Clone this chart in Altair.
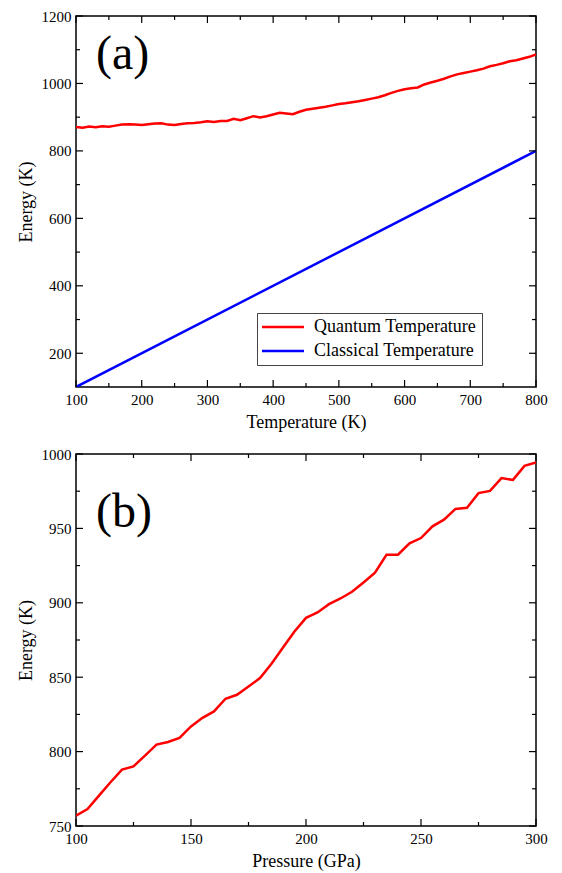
import altair as alt
import pandas as pd

# ---------------- data ----------------
temperature = [100, 110, 120, 130, 140, 150, 160, 170, 180, 190,
               200, 210, 220, 230, 240, 250, 260, 270, 280, 290,
               300, 310, 320, 330, 340, 350, 360, 370, 380, 390,
               400, 410, 420, 430, 440, 450, 460, 470, 480, 490,
               500, 510, 520, 530, 540, 550, 560, 570, 580, 590,
               600, 610, 620, 630, 640, 650, 660, 670, 680, 690,
               700, 710, 720, 730, 740, 750, 760, 770, 780, 790, 800]
quantum_energy = [871, 869, 872, 870, 873, 872, 875, 878, 879, 878,
                  877, 879, 881, 882, 878, 877, 880, 882, 883, 885,
                  888, 886, 889, 889, 895, 891, 897, 903, 899, 903,
                  908, 913, 911, 909, 916, 922, 925, 928, 931, 935,
                  939, 941, 944, 947, 951, 955, 959, 965, 972, 978,
                  983, 986, 988, 997, 1003, 1008, 1014, 1021, 1027, 1031,
                  1035, 1039, 1044, 1051, 1055, 1060, 1066, 1069, 1074, 1079, 1086]
classical_temperature = [100, 800]
classical_energy = [100, 800]

pressure = [100, 105, 110, 115, 120, 125, 130, 135, 140, 145,
            150, 155, 160, 165, 170, 175, 180, 185, 190, 195,
            200, 205, 210, 215, 220, 225, 230, 235, 240, 245,
            250, 255, 260, 265, 270, 275, 280, 285, 290, 295, 300]
pressure_energy = [757, 761.4, 770.4, 779.4, 787.9, 790.1, 797.3, 804.7, 806.5, 809.2,
                   816.9, 822.7, 827.0, 835.5, 838.2, 843.8, 849.4, 859.1, 870.0, 880.7,
                   889.9, 893.5, 899.1, 902.9, 907.4, 913.7, 920.2, 932.3, 932.3, 940.0,
                   943.5, 951.4, 955.9, 963.1, 963.8, 973.7, 975.2, 983.8, 982.6, 992.0, 994.3]

series_names = ["Quantum Temperature", "Classical Temperature"]
series_colors = ["#ff0000", "#0000ff"]

top_x_major = [100, 200, 300, 400, 500, 600, 700, 800]
top_x_minor = [150, 250, 350, 450, 550, 650, 750]
top_y_major = [200, 400, 600, 800, 1000, 1200]
top_y_minor = [300, 500, 700, 900, 1100]
bot_x_major = [100, 150, 200, 250, 300]
bot_x_minor = [125, 175, 225, 275]
bot_y_major = [750, 800, 850, 900, 950, 1000]
bot_y_minor = [775, 825, 875, 925, 975]

top_df = pd.concat([
    pd.DataFrame({"T": temperature, "E": quantum_energy, "series": series_names[0]}),
    pd.DataFrame({"T": classical_temperature, "E": classical_energy, "series": series_names[1]}),
], ignore_index=True)
bot_df = pd.DataFrame({"P": pressure, "E": pressure_energy})

FONT = "Liberation Serif"
MAJ = 7
MIN = 4


def label_axis(orient, values, title):
    return alt.Axis(orient=orient, values=values, format="d", title=title,
                    ticks=False, domain=False, grid=False,
                    labelFont=FONT, labelFontSize=15, labelColor="black",
                    labelPadding=5, labelFlush=False, labelOverlap=False,
                    titleFont=FONT, titleFontSize=18, titleFontWeight="normal",
                    titleColor="black", titlePadding=6)


def tick_rules(values, scale, along, side, size, w, h):
    """Inward tick marks on one edge of the frame, placed through the scale."""
    df = pd.DataFrame({"v": values})
    r = alt.Chart(df).mark_rule(color="black", strokeWidth=1.2)
    if along == "x":
        y0, y1 = (h, h - size) if side == "bottom" else (0, size)
        return r.encode(x=alt.X("v:Q", scale=scale, axis=None),
                        y=alt.value(y0), y2=alt.value(y1))
    x0, x1 = (0, size) if side == "left" else (w, w - size)
    return r.encode(y=alt.Y("v:Q", scale=scale, axis=None),
                    x=alt.value(x0), x2=alt.value(x1))


def panel(data, xf, yf, xdom, ydom, xmaj, xmin, ymaj, ymin, xtitle, ytitle,
          tag, tag_y, w, h, color):
    xs = alt.Scale(domain=xdom, nice=False, zero=False)
    ys = alt.Scale(domain=ydom, nice=False, zero=False)
    main = alt.Chart(data).mark_line(strokeWidth=2.5, clip=True).encode(
        x=alt.X(f"{xf}:Q", scale=xs, axis=label_axis("bottom", xmaj, xtitle)),
        y=alt.Y(f"{yf}:Q", scale=ys, axis=label_axis("left", ymaj, ytitle)),
        color=color,
    )
    ticks = []
    for side in ("bottom", "top"):
        ticks.append(tick_rules(xmaj, xs, "x", side, MAJ, w, h))
        ticks.append(tick_rules(xmin, xs, "x", side, MIN, w, h))
    for side in ("left", "right"):
        ticks.append(tick_rules(ymaj, ys, "y", side, MAJ, w, h))
        ticks.append(tick_rules(ymin, ys, "y", side, MIN, w, h))

    tag_layer = alt.Chart(pd.DataFrame({"label": [tag]})).mark_text(
        font=FONT, fontSize=48, align="left", baseline="alphabetic", color="black"
    ).encode(x=alt.value(20), y=alt.value(tag_y), text="label:N")

    return alt.layer(main, *ticks, tag_layer).resolve_axis(
        x="independent", y="independent"
    ).properties(width=w, height=h)


top_color = alt.Color(
    "series:N",
    scale=alt.Scale(domain=series_names, range=series_colors),
    legend=alt.Legend(
        orient="none", legendX=181, legendY=297, title=None,
        symbolType="M-3,0H3", symbolSize=196, symbolStrokeWidth=2.5,
        symbolOffset=12, labelOffset=22, labelLimit=0,
        labelFont=FONT, labelFontSize=18, labelColor="black",
        strokeColor="#444444", padding=5, rowPadding=6,
    ),
)

top = panel(top_df, "T", "E", [100, 800], [100, 1200],
            top_x_major, top_x_minor, top_y_major, top_y_minor,
            "Temperature (K)", "Energy (K)", "(a)", 53, 460, 371, top_color)
bottom = panel(bot_df, "P", "E", [100, 300], [750, 1000],
               bot_x_major, bot_x_minor, bot_y_major, bot_y_minor,
               "Pressure (GPa)", "Energy (K)", "(b)", 73, 460, 372, alt.value("#ff0000"))

chart = alt.vconcat(top, bottom, spacing=14).properties(
    padding={"left": 8, "top": 0, "right": 5, "bottom": 0}
).configure(
    background="white", font=FONT
).configure_view(
    stroke="black", strokeWidth=1.5
).configure_axis(
    labelFont=FONT, titleFont=FONT
).configure_legend(
    labelFont=FONT
).configure_text(font=FONT)

chart.save("out.html", embed_options={"renderer": "svg", "actions": False})
